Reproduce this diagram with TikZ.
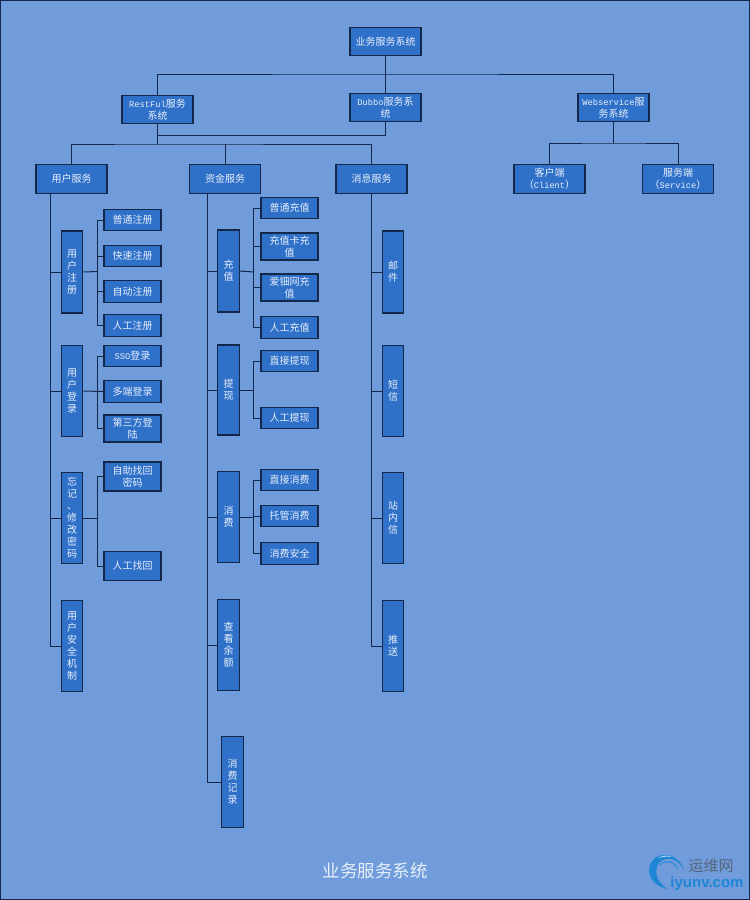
\documentclass[tikz,border=0pt]{standalone}
\usepackage{fontspec}
\setmainfont{Noto Sans CJK SC}
\newfontfamily\lat[Scale=0.87]{Liberation Mono}
\newfontfamily\logolat{Liberation Sans}
\definecolor{bgblue}{HTML}{709CDB}
\definecolor{boxblue}{HTML}{2F70C9}
\definecolor{boxline}{HTML}{14294A}
\definecolor{logoblue}{HTML}{1F86D6}
\definecolor{logogray}{HTML}{56657C}
\definecolor{titlewhite}{HTML}{E8F0FA}

\tikzstyle{mybox} = [draw=boxline, fill=boxblue, line width=1.2pt, rectangle, inner sep=0pt,
    text=titlewhite, align=center, font=\fontsize{10}{12}\selectfont]
\tikzstyle{topbox} = [mybox, minimum width=71pt, minimum height=28.5pt]
\tikzstyle{subbox} = [mybox, minimum width=57pt, minimum height=21.5pt]
\tikzstyle{tallsub} = [mybox, minimum width=57pt, minimum height=27pt]
\tikzstyle{sidebox} = [mybox, minimum width=21.5pt, minimum height=91.5pt]
\tikzstyle{conn} = [draw=boxline, line width=1pt]

\begin{document}
\begin{tikzpicture}[x=1pt, y=-1pt]
    \useasboundingbox (0,0) rectangle (750,900);
    \draw [fill=bgblue, draw=boxline, line width=1pt] (0.5,0.5) rectangle (749.8,899.5);
%------------ Kopf ---------------------
    \node [topbox] (root) at (385.5,41.5) {业务服务系统};
    \node [topbox] (rest) at (157.5,109.5) {{\lat RestFul}服务\\系统};
    \node [topbox] (dubbo) at (385.5,107.5) {{\lat Dubbo}服务系\\统};
    \node [topbox] (web) at (613.5,107.5) {{\lat Webservice}服\\务系统};
    \node [topbox] (yonghu) at (71.5,179) {用户服务};
    \node [topbox] (zijin) at (225,179) {资金服务};
    \node [topbox] (xiaoxi) at (371.5,179) {消息服务};
    \node [topbox] (client) at (549.5,179) {客户端\\（{\lat Client}）};
    \node [topbox] (service) at (678,179) {服务端\\（{\lat Service}）};
%------------ Benutzer ---------------------
    \node [sidebox, minimum height=82pt] (yhzc) at (72,272) {用\\户\\注\\册};
    \node [sidebox] (yhdl) at (72,391) {用\\户\\登\\录};
    \node [sidebox] (yhmm) at (72,518) {忘\\记\\、\\修\\改\\密\\码};
    \node [sidebox] (yhaq) at (72,646) {用\\户\\安\\全\\机\\制};
    \node [subbox] (ptzc) at (132.5,220) {普通注册};
    \node [subbox] (kszc) at (132.5,256) {快速注册};
    \node [subbox] (zdzc) at (132.5,291.5) {自动注册};
    \node [subbox] (rgzc) at (132.5,325.5) {人工注册};
    \node [subbox] (ssodl) at (132.5,356) {{\lat SSO}登录};
    \node [subbox] (dddl) at (132.5,391.5) {多端登录};
    \node [tallsub] (dsfdl) at (132.5,428.5) {第三方登\\陆};
    \node [mybox, minimum width=57pt, minimum height=29pt] (zzzh) at (132.5,476.5) {自助找回\\密码};
    \node [mybox, minimum width=57pt, minimum height=29pt] (rgzh) at (132.5,566) {人工找回};
%------------ Kapital ---------------------
    \node [sidebox, minimum height=82pt] (cz) at (228.5,271) {充\\值};
    \node [sidebox, minimum height=90pt] (tx) at (228.5,390) {提\\现};
    \node [sidebox] (xf) at (228.5,517) {消\\费};
    \node [sidebox] (ye) at (228.5,645) {查\\看\\余\\额};
    \node [sidebox] (jl) at (232.5,782) {消\\费\\记\\录};
    \node [subbox] (ptcz) at (289.5,208) {普通充值};
    \node [tallsub] (kcz) at (289.5,246.5) {充值卡充\\值};
    \node [tallsub] (adwcz) at (289.5,287.5) {爱钿网充\\值};
    \node [subbox] (rgcz) at (289.5,327.5) {人工充值};
    \node [subbox] (zjtx) at (289.5,361) {直接提现};
    \node [subbox] (rgtx) at (289.5,418) {人工提现};
    \node [subbox] (zjxf) at (289.5,480) {直接消费};
    \node [subbox] (tgxf) at (289.5,516) {托管消费};
    \node [subbox] (xfaq) at (289.5,553.5) {消费安全};
%------------ Nachrichten ---------------------
    \node [sidebox, minimum height=82pt] (yj) at (393,272) {邮\\件};
    \node [sidebox] (dx) at (393,391) {短\\信};
    \node [sidebox] (znx) at (393,518) {站\\内\\信};
    \node [sidebox] (ts) at (393,646) {推\\送};
%------------ Hilfspunkte ---------------------
    \coordinate (topbus) at (385.5,74);
    \coordinate (restbus) at (157.5,144);
    \coordinate (restdubbo) at (157.5,135.5);
    \coordinate (webbus) at (613.5,143);
    \coordinate (yhtrunk) at (50,193);
    \coordinate (zjtrunk) at (207,193);
    \coordinate (xxtrunk) at (371,193);
    \coordinate (zcbus) at (97,271.5);
    \coordinate (dlbus) at (97,391);
    \coordinate (mmbus) at (97,518);
    \coordinate (czbus) at (253.5,272);
    \coordinate (txbus) at (253.5,390);
    \coordinate (xfbus) at (253.5,517);
%------------ Linien oben ---------------------
    \draw [conn] (root.south) -- (dubbo.north);
    \draw [conn] (rest.north) |- (topbus) -| (web.north);
    \draw [conn] (rest.south) -- (restbus);
    \draw [conn] (restdubbo) -| (dubbo.south);
    \draw [conn] (yonghu.north) |- (restbus) -| (xiaoxi.north);
    \draw [conn] (zijin.north) -- (zijin.north |- restbus);
    \draw [conn] (web.south) -- (webbus);
    \draw [conn] (client.north) |- (webbus) -| (service.north);
%------------ Linien Benutzer ---------------------
    \draw [conn] (yhaq.west) -| (yhtrunk);
    \draw [conn] (yhzc.west) -- (yhzc.west -| yhtrunk);
    \draw [conn] (yhdl.west) -- (yhdl.west -| yhtrunk);
    \draw [conn] (yhmm.west) -- (yhmm.west -| yhtrunk);
    \draw [conn] (yhzc.east) -- (zcbus);
    \draw [conn] (zcbus) |- (ptzc.west);
    \draw [conn] (zcbus) |- (kszc.west);
    \draw [conn] (zcbus) |- (zdzc.west);
    \draw [conn] (zcbus) |- (rgzc.west);
    \draw [conn] (yhdl.east) -- (dddl.west);
    \draw [conn] (dlbus) |- (ssodl.west);
    \draw [conn] (dlbus) |- (dsfdl.west);
    \draw [conn] (yhmm.east) -- (mmbus);
    \draw [conn] (mmbus) |- (zzzh.west);
    \draw [conn] (mmbus) |- (rgzh.west);
%------------ Linien Kapital ---------------------
    \draw [conn] (jl.west) -| (zjtrunk);
    \draw [conn] (cz.west) -- (cz.west -| zjtrunk);
    \draw [conn] (tx.west) -- (tx.west -| zjtrunk);
    \draw [conn] (xf.west) -- (xf.west -| zjtrunk);
    \draw [conn] (ye.west) -- (ye.west -| zjtrunk);
    \draw [conn] (cz.east) -- (czbus);
    \draw [conn] (czbus) |- (ptcz.west);
    \draw [conn] (czbus) |- (kcz.west);
    \draw [conn] (czbus) |- (adwcz.west);
    \draw [conn] (czbus) |- (rgcz.west);
    \draw [conn] (tx.east) -- (txbus);
    \draw [conn] (txbus) |- (zjtx.west);
    \draw [conn] (txbus) |- (rgtx.west);
    \draw [conn] (xf.east) -- (xfbus);
    \draw [conn] (xfbus) |- (zjxf.west);
    \draw [conn] (xfbus) |- (tgxf.west);
    \draw [conn] (xfbus) |- (xfaq.west);
%------------ Linien Nachrichten ---------------------
    \draw [conn] (ts.west) -| (xxtrunk);
    \draw [conn] (yj.west) -- (yj.west -| xxtrunk);
    \draw [conn] (dx.west) -- (dx.west -| xxtrunk);
    \draw [conn] (znx.west) -- (znx.west -| xxtrunk);
%------------ Titel und Logo ---------------------
    \node [text=titlewhite, font=\fontsize{17.5}{20}\selectfont] (title) at (375,871) {业务服务系统};
    \fill [logoblue] (684,870) .. controls (681,858) and (666,850) .. (655,858)
        .. controls (644,867) and (648,885) .. (668,889)
        .. controls (657,883) and (653,871) .. (659,863)
        .. controls (666,855) and (679,859) .. (684,870);
    \draw [logoblue, line width=0.9pt] (678,869) .. controls (674,861) and (665,859) .. (660,865);
    \fill [white!65!logoblue] (658,858) .. controls (663,855) and (668,855) .. (672,857)
        .. controls (667,856) and (663,857) .. (658,858);
    \node [text=logogray, font=\fontsize{15}{17}\selectfont] (logocn) at (711,866) {运维网};
    \node [text=logoblue, font=\logolat\bfseries\fontsize{15}{17}\selectfont] (logoen) at (707,884) {iyunv.com};
\end{tikzpicture}
\end{document}
